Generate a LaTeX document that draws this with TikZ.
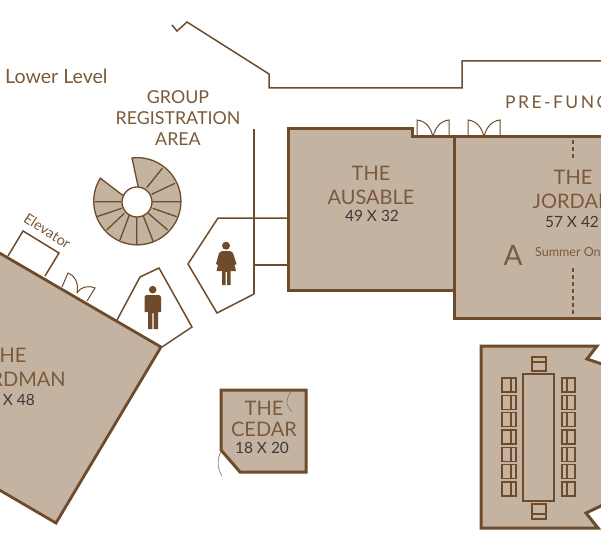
\documentclass[tikz,border=0pt]{standalone}
\usepackage{fontspec}
\setmainfont{Lato}
\definecolor{wall}{HTML}{6E4B2A}
\definecolor{roomfill}{HTML}{C5B3A2}
\definecolor{label}{HTML}{7A5A3A}
\definecolor{dims}{HTML}{3F3A36}
\tikzset{
  thickwall/.style={draw=wall,line width=3pt,fill=roomfill,line join=miter},
  thinwall/.style={draw=wall,line width=1.5pt,line join=miter},
  furn/.style={draw=wall,line width=1.3pt},
  doorline/.style={draw=wall,line width=1pt},
  roomtext/.style={text=label,align=center,inner sep=0pt,font=\fontsize{20}{24}\selectfont},
  dimtext/.style={text=dims,align=center,inner sep=0pt,font=\fontsize{15.5}{18}\selectfont},
  plain/.style={text=label,align=center,inner sep=0pt},
  icon/.style={fill=wall,draw=none}
}
\begin{document}
\begin{tikzpicture}[x=1pt,y=-1pt]
\useasboundingbox (0,0) rectangle (601,545);
% outer corridor wall
\draw[thinwall] (172,25) -- (177,31) -- (187,22) -- (269,74) -- (269,88) -- (462,88) -- (462,61) -- (604,61);
\draw[thinwall] (254,129) -- (254,294);
% Ausable
\draw[thickwall] (288,129) -- (412,129) -- (412,137) -- (454,137) -- (454,290) -- (288,290) -- cycle;
% Jordan
\path[fill=roomfill] (454,137) rectangle (604,318);
\draw[thickwall,fill=none] (604,137) -- (454,137) -- (454,318) -- (604,318);
\draw[draw=wall,line width=1.5pt,dash pattern=on 4pt off 3pt] (573,140) -- (573,160);
\draw[draw=wall,line width=1.5pt,dash pattern=on 4pt off 3pt] (573,268) -- (573,317);
% double doors
\foreach \dx in {0,51}{
 \draw[doorline] (417+\dx,137) -- (417+\dx,120) .. controls (426+\dx,121) and (431+\dx,128) .. (433+\dx,137);
 \draw[doorline] (449+\dx,137) -- (449+\dx,120) .. controls (440+\dx,121) and (435+\dx,128) .. (433+\dx,137);
}
% Boardman
\draw[thickwall,line width=2.8pt] (-4,251) -- (161,347) -- (56,523) -- (-4,488) -- cycle;
% Elevator
\draw[thinwall] (8,256) -- (23,231) -- (59,253) -- (45,276);
% door by elevator
\draw[doorline] (62,287) -- (68,273) .. controls (75,276) and (79,283) .. (77,293);
\draw[doorline] (87,301) -- (95,288) .. controls (88,285) and (80,287) .. (77,293);
% Men
\draw[thinwall] (117,320) -- (140,277) -- (159,268) -- (192,327) -- (162,347);
% Women
\draw[thinwall] (287,218) -- (218,218) -- (188,264) -- (217,313) -- (254,294);
\draw[thinwall] (254,265) -- (287,265);
% Stairs
\draw[draw=wall,line width=1.3pt,fill=roomfill,line join=miter]
  (132,158) arc[start angle=-97,end angle=212,radius=43.6] -- (121,194) -- (137,202) -- (138,186) -- cycle;
\draw[draw=wall,line width=1.3pt,fill=white] (137,202) circle[radius=15];
\draw[furn]
 (162.3,168.3) -- (146.7,187.7) (175,183.3) -- (151.7,194.3) (180,201.7) -- (152.7,201.7)
 (176.7,216.7) -- (152.7,208.3) (167.7,230) -- (148.3,213.3) (153.3,241.7) -- (143.3,216) 
 (136.7,245) -- (136.7,217.7) (120,240) -- (129.3,215) (106.7,230) -- (124.3,213.3)
 (96.7,216.7) -- (121.7,208.3) (95,201.7) -- (121,201.7);
% Cedar
\draw[thickwall] (221,390) -- (306,390) -- (306,472) -- (240,472) -- (221,450) -- cycle;
\draw[draw=gray,line width=.7pt] (291,392) .. controls (286,398) and (285,405) .. (292,412);
\draw[draw=gray,line width=.7pt] (221,452) .. controls (217,458) and (217,468) .. (222,476);
% Boardroom
\draw[thickwall] (597,346) -- (587,359) -- (605,365) -- (605,504) -- (586,513) -- (598,528) -- (481,528) -- (481,346) -- cycle;
\draw[furn] (523,374) rectangle (554,501);
\foreach \y in {378,395.3,412.6,430,447.3,464.6,482}{
 \draw[furn] (502,\y) rectangle (516,\y+14);
 \draw[furn] (511,\y) -- (511,\y+14);
 \draw[furn] (562,\y) rectangle (575,\y+14);
 \draw[furn] (567,\y) -- (567,\y+14);
}
\draw[furn] (532,357) rectangle (546,371);
\draw[furn] (532,362) -- (546,362);
\draw[furn] (532,504) rectangle (546,519);
\draw[furn] (532,514) -- (546,514);
% icons
\fill[icon] (226,245.7) circle[radius=4];
\fill[icon] (222,251) -- (230,251) -- (233,253) -- (236.5,264) -- (234.5,265) -- (236,271) -- (230.5,271) -- (230.5,285) -- (227,285) -- (227,272) -- (225.5,272) -- (225.5,285) -- (222,285) -- (222,271) -- (216.5,271) -- (218,265) -- (216,264) -- (219,253) -- cycle;
\fill[icon] (152.7,289.7) circle[radius=3.8];
\fill[icon] (146,295) -- (159,295) -- (161,297) -- (161,312) -- (158,312) -- (158,329) -- (153.6,329) -- (153.6,313) -- (152.4,313) -- (152.4,329) -- (148,329) -- (148,312) -- (144.5,312) -- (144.5,297) -- cycle;
% text
\node[plain,anchor=west,font=\fontsize{19.6}{22}\selectfont] (lower) at (5,76) {Lower Level};
\node[plain,font=\fontsize{17.8}{21}\selectfont] (group) at (178,118.5) {GROUP\\REGISTRATION\\AREA};
\node[plain,anchor=west,font=\fontsize{17.5}{20}\selectfont] (pre) at (505,102) {\addfontfeature{LetterSpace=14}PRE-FUNC};
\node[plain,rotate=-33,font=\fontsize{14.5}{16}\selectfont] (elev) at (47.5,231) {Elevator};
\node[roomtext] (ausable) at (371,185) {THE\\AUSABLE};
\node[dimtext] (ausdim) at (372,216) {49 X 32};
\node[roomtext] (jordan) at (573,189) {THE\\JORDAN};
\node[dimtext] (jordim) at (572,222) {57 X 42};
\node[text=label,inner sep=0pt,font=\fontsize{28}{32}\selectfont] (a) at (513,255) {A};
\node[text=label,anchor=west,inner sep=0pt,font=\fontsize{12.5}{14}\selectfont] (summer) at (535,253) {Summer Only};
\node[roomtext] (bord) at (7,367.5) {THE\\BOARDMAN};
\node[dimtext,anchor=east] (borddim) at (35,400) {X 48};
\node[roomtext,font=\fontsize{20}{21}\selectfont] (cedar) at (264,418.5) {THE\\CEDAR};
\node[dimtext] (cedardim) at (262,448) {18 X 20};
\end{tikzpicture}
\end{document}
